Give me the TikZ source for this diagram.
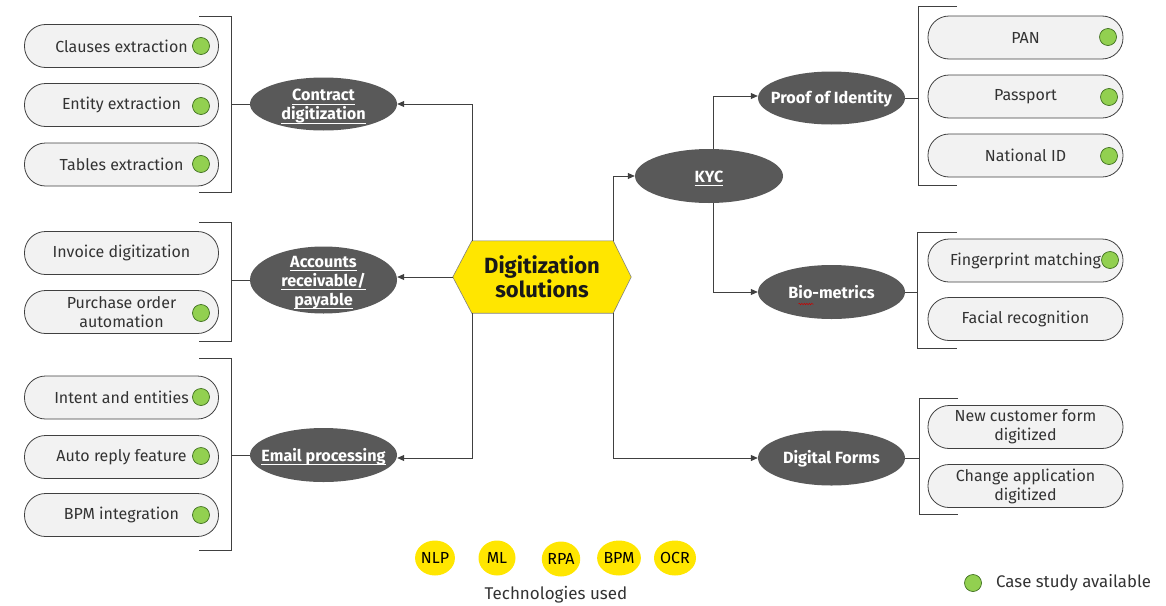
\documentclass[tikz,border=0pt]{standalone}
\usepackage{fontspec}
\setmainfont{Fira Sans}
\usetikzlibrary{shapes.geometric,arrows.meta,calc,decorations.pathmorphing}
\definecolor{ellgray}{HTML}{595959}
\definecolor{pillfill}{HTML}{F2F2F2}
\definecolor{dotgreen}{HTML}{92D050}
\definecolor{dotedge}{HTML}{3F6F1F}
\definecolor{eyyellow}{HTML}{FFE600}
\definecolor{txt}{HTML}{333333}
\definecolor{linegray}{HTML}{404040}
\newcommand\ulx[1]{\underline{\smash{#1}\rule[-2pt]{0pt}{2pt}}}
\begin{document}
\begin{tikzpicture}[x=1pt,y=-1pt,
  pill/.style={draw=linegray, line width=0.8pt, fill=pillfill, rounded corners=21pt,
    minimum width=194pt, minimum height=43pt, inner sep=0pt, text=txt, align=center,
    font=\fontsize{16}{19}\selectfont},
  gdot/.style={circle, draw=dotedge, line width=0.7pt, fill=dotgreen, minimum size=17pt, inner sep=0pt},
  ell/.style={ellipse, fill=ellgray, minimum width=147pt, minimum height=53pt, inner sep=0pt},
  elltext/.style={text=white, align=center, font=\bfseries\fontsize{16.2}{19}\selectfont, inner sep=0pt},
  ulabel/.style={elltext, yshift=-8pt},
  plabel/.style={elltext, yshift=-1pt},
  conn/.style={draw=linegray, line width=0.8pt},
  arr/.style={conn, -{Triangle[length=7pt,width=6pt]}},
  brk/.style={draw=linegray, line width=0.8pt},
  tech/.style={ellipse, fill=eyyellow, minimum width=37pt, minimum height=35pt, inner sep=0pt,
    font=\fontsize{16}{18}\selectfont, text=black},
]
\useasboundingbox (0,0) rectangle (1166,605);

% central hexagon
\node[minimum width=178pt, minimum height=72pt, inner sep=0pt] (hex) at (542,277) {};
\filldraw[fill=eyyellow, draw=gray, line width=0.6pt]
  (hex.west) -- ([xshift=19pt]hex.north west) -- ([xshift=-18pt]hex.north east)
  -- (hex.east) -- ([xshift=-18pt]hex.south east) -- ([xshift=19pt]hex.south west) -- cycle;
\node[align=center, font=\bfseries\fontsize{22}{24}\selectfont, text=black!90] at (hex) {Digitization\\solutions};

% left ellipses
\node[ell, label={[ulabel]center:{\ulx{Contract}\\\ulx{digitization}}}] (cd) at (323.5,104) {};
\node[ell, minimum height=67pt, label={[ulabel]center:{\ulx{Accounts}\\\ulx{receivable/}\\\ulx{payable}}}] (ar) at (323.5,280) {};
\node[ell, minimum height=54pt, label={[ulabel]center:{\ulx{Email processing}}}] (em) at (323.5,455) {};

% right ellipses
\node[ell, minimum width=148pt, minimum height=54pt, label={[ulabel]center:{\ulx{KYC}}}] (kyc) at (709,176) {};
\node[ell, label={[plabel]center:{Proof of Identity}}] (poi) at (831.5,98) {};
\node[ell, minimum height=54pt, label={[elltext]center:{Bio-metrics}}] (bio) at (831.5,292) {};
\node[ell, minimum height=55pt, label={[plabel]center:{Digital Forms}}] (df) at (831.5,458) {};
\draw[red!80!black, line width=0.5pt, decorate, decoration={snake, amplitude=0.7pt, segment length=2.5pt}]
  ([xshift=-33pt,yshift=-12pt]bio.center) -- ([xshift=-18pt,yshift=-12pt]bio.center);

% connectors from hexagon
\draw[arr] ([xshift=-70pt]hex.north) |- (cd.east);
\draw[arr] (hex.west) -- (hex.west -| ar.east);
\draw[arr] ([xshift=-70pt]hex.south) |- ([yshift=-3pt]em.east);
\draw[arr] ([xshift=71pt]hex.north) |- (kyc.west);
\draw[arr] ([xshift=4pt]kyc.north) |- ([yshift=2pt]poi.west);
\draw[arr] ([xshift=4pt]kyc.south) |- (bio.west);
\draw[arr] ([xshift=71pt]hex.south) |- (df.west);

% left pills
\node[pill] (p1) at (121.5,46) {Clauses extraction};
\node[pill] (p2) at (121.5,105) {Entity extraction};
\node[pill] (p3) at (121.5,164.5) {Tables extraction};
\node[pill] (p4) at (121.5,253) {Invoice digitization};
\node[pill] (p5) at (121.5,312) {Purchase order\\automation};
\node[pill] (p6) at (121.5,397.5) {Intent and entities};
\node[pill] (p7) at (121.5,457) {Auto reply feature};
\node[pill] (p8) at (121.5,515) {BPM integration};
\foreach \n/\y in {d1/46,d2/106,d3/164,d5/313,d6/397,d7/456,d8/515}
  \node[gdot] (\n) at (201,\y) {};

% left brackets
\draw[brk] (199,16) -- (231,16) -- (231,192) -- (199,192);
\coordinate (lb1) at (231,104);
\draw[conn] (lb1) -- (cd.west);
\draw[brk] (199,222) -- (231,222) -- (231,341) -- (199,341);
\coordinate (lb2) at (231,280);
\draw[conn] (lb2) -- (ar.west);
\draw[brk] (199,358) -- (231,358) -- (231,550) -- (199,550);
\coordinate (lb3) at (231,455);
\draw[conn] (lb3) -- (em.west);

% right pills
\node[pill, minimum width=195pt] (q1) at (1025.5,37.5) {PAN};
\node[pill, minimum width=195pt] (q2) at (1025.5,96.5) {Passport};
\node[pill, minimum width=195pt] (q3) at (1025.5,155.5) {National ID};
\node[pill, minimum width=195pt] (q4) at (1025.5,260.5) {Fingerprint matching};
\node[pill, minimum width=195pt] (q5) at (1025.5,319) {Facial recognition};
\node[pill, minimum width=195pt] (q6) at (1025.5,427) {New customer form\\digitized};
\node[pill, minimum width=195pt] (q7) at (1025.5,486) {Change application\\digitized};
\foreach \n/\x/\y in {e1/1108/37,e2/1109/97,e3/1109/156,e4/1110/260}
  \node[gdot] (\n) at (\x,\y) {};

% right brackets
\draw[brk] (957,6) -- (918,6) -- (918,185) -- (957,185);
\coordinate (rb1) at (918,98);
\draw[conn] (poi.east) -- (rb1);
\draw[brk] (957,232) -- (917,232) -- (917,348) -- (957,348);
\coordinate (rb2) at (917,292);
\draw[conn] (bio.east) -- (rb2);
\draw[brk] (958,398) -- (919,398) -- (919,514) -- (958,514);
\coordinate (rb3) at (919,458);
\draw[conn] (df.east) -- (rb3);

% technologies
\node[tech] (t1) at (435,558) {NLP};
\node[tech] (t2) at (497,558) {ML};
\node[tech] (t3) at (561,559) {RPA};
\node[tech] (t4) at (619,558) {BPM};
\node[tech] (t5) at (675,558) {OCR};
\node[font=\fontsize{17}{19}\selectfont, text=txt] (tu) at (556,595) {Technologies used};

% legend
\node[gdot] (ld) at (973,583) {};
\node[anchor=west, font=\fontsize{16.8}{19}\selectfont, text=txt, inner sep=0pt] (lt) at (996,583) {Case study available};
\end{tikzpicture}
\end{document}
